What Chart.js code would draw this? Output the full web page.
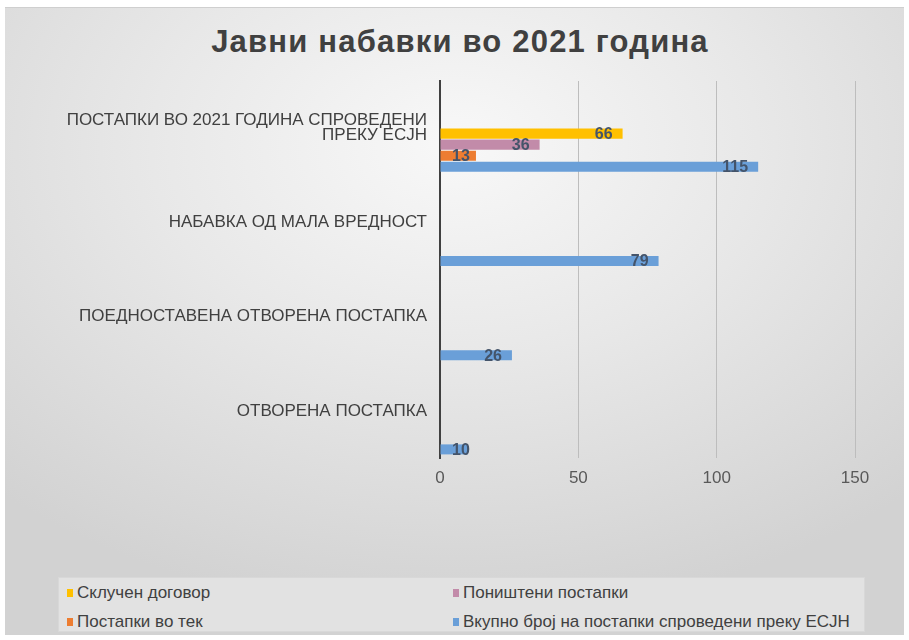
<!DOCTYPE html>
<html>
<head>
<meta charset="utf-8">
<script src="https://cdn.jsdelivr.net/npm/chart.js@4/dist/chart.umd.min.js"></script>
<style>
  body { margin: 0; background: #ffffff; font-family: 'Liberation Sans', Arial, sans-serif; }
  #frame {
    position: absolute; left: 5px; top: 7px; width: 899px; height: 627px;
    border-top: 1px solid #cfcfcf;
    background: radial-gradient(ellipse 75% 75% at 50% 22%, #f8f8f8 0%, #e8e8e8 45%, #d2d2d2 100%);
  }
  #title {
    position: absolute; left: 0; top: 24px; width: 920px; text-align: center;
    font-size: 31px; line-height: 36px; font-weight: bold; color: #404040;
    letter-spacing: 1.2px;
  }
  #wrap { position: absolute; left: 0; top: 0; width: 909px; height: 640px; }
  #legend {
    position: absolute; left: 58px; top: 577px; width: 807px; height: 55px;
    background: #e2e2e2; border: 1px solid #d8d8d8; box-sizing: border-box;
    font-size: 17px; color: #404040;
  }
  .item { position: absolute; white-space: nowrap; line-height: 18px; }
  .item span.box { display: inline-block; width: 6px; height: 8px; margin-right: 4px; vertical-align: 1px; }
</style>
</head>
<body>
<div id="frame"></div>
<div id="title">Јавни набавки во 2021 година</div>
<div id="wrap"><canvas id="chart" width="909" height="640"></canvas></div>
<div id="legend"></div>
<script>
// Податоци
const categories = [
    ['ПОСТАПКИ ВО 2021 ГОДИНА СПРОВЕДЕНИ', 'ПРЕКУ ЕСЈН'],
    'НАБАВКА ОД МАЛА ВРЕДНОСТ',
    'ПОЕДНОСТАВЕНА ОТВОРЕНА ПОСТАПКА',
    'ОТВОРЕНА ПОСТАПКА'
];
const sklucenDogovor = [66, null, null, null];
const ponishteni = [36, null, null, null];
const voTek = [13, null, null, null];
const vkupno = [115, 79, 26, 10];
const xTicks = [0, 50, 100, 150];
const empty = [null, null, null, null];

const colors = {
    yellow: '#FFC000',
    mauve: '#C28BA9',
    orange: '#ED7D31',
    blue: '#6A9FD8',
    text: '#404040',
    label: '#44546A',
    grid: '#bdbdbd'
};

Chart.defaults.font.family = "'Liberation Sans', Arial, sans-serif";

// Лабели на крајот од столбовите
const valueLabels = {
    id: 'valueLabels',
    afterDatasetsDraw(chart) {
        const ctx = chart.ctx;
        const left = chart.chartArea.left;
        ctx.save();
        ctx.font = 'bold 16px ' + Chart.defaults.font.family;
        ctx.fillStyle = colors.label;
        ctx.textAlign = 'left';
        ctx.textBaseline = 'middle';
        chart.data.datasets.forEach((ds, i) => {
            if (!ds.label) return;
            chart.getDatasetMeta(i).data.forEach((bar, j) => {
                const v = ds.data[j];
                if (v == null) return;
                const txt = String(v);
                const w = ctx.measureText(txt).width;
                let x = bar.x - 10 - w;
                if (x < left + 12) x = left + 12;
                ctx.fillText(txt, x, bar.y + 1);
            });
        });
        ctx.restore();
    }
};

// 8 позиции во групата, првите 4 се празни серии
const datasets = [
    { label: '', data: empty },
    { label: '', data: empty },
    { label: '', data: empty },
    { label: '', data: empty },
    { label: 'Склучен договор', data: sklucenDogovor, backgroundColor: colors.yellow },
    { label: 'Поништени постапки', data: ponishteni, backgroundColor: colors.mauve },
    { label: 'Постапки во тек', data: voTek, backgroundColor: colors.orange },
    { label: 'Вкупно број на постапки спроведени преку ЕСЈН', data: vkupno, backgroundColor: colors.blue }
];

const chart = new Chart(document.getElementById('chart'), {
    type: 'bar',
    data: { labels: categories, datasets: datasets },
    options: {
        indexAxis: 'y',
        responsive: false,
        animation: false,
        categoryPercentage: 0.934,
        barPercentage: 0.91,
        layout: { padding: { left: 0, right: 54, top: 81, bottom: 142 } },
        plugins: {
            legend: { display: false },
            title: { display: false },
            tooltip: { enabled: false }
        },
        scales: {
            x: {
                min: 0,
                max: 150,
                afterBuildTicks: (scale) => { scale.ticks = xTicks.map(v => ({ value: v })); },
                afterFit: (scale) => { scale.height = 40; },
                border: { display: false },
                grid: {
                    drawTicks: false,
                    color: (c) => c.tick && c.tick.value === 0 ? 'rgba(0,0,0,0)' : colors.grid
                },
                ticks: { padding: 10, color: '#595959', font: { size: 17 } }
            },
            y: {
                afterFit: (scale) => { scale.width = 440; },
                border: { display: true, color: '#404040', width: 2 },
                grid: { display: false, drawTicks: false },
                ticks: { padding: 13, color: colors.text, font: { size: 17, lineHeight: 0.9 } }
            }
        }
    },
    plugins: [valueLabels]
});

// Легенда во две колони
const legend = document.getElementById('legend');
const pos = [[8, 6], [394, 6], [8, 35], [394, 35]];
chart.data.datasets.filter(d => d.label).forEach((d, i) => {
    const el = document.createElement('div');
    el.className = 'item';
    el.style.left = pos[i][0] + 'px';
    el.style.top = pos[i][1] + 'px';
    el.innerHTML = '<span class="box" style="background:' + d.backgroundColor + '"></span>' + d.label;
    legend.appendChild(el);
});
</script>
</body>
</html>
